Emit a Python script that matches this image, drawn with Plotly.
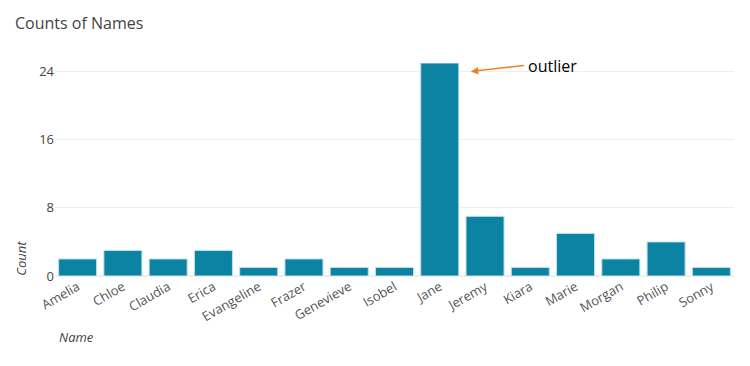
import plotly.graph_objects as go

names = ["Amelia", "Chloe", "Claudia", "Erica", "Evangeline", "Frazer", "Genevieve",
         "Isobel", "Jane", "Jeremy", "Kiara", "Marie", "Morgan", "Philip", "Sonny"]
counts = [2, 3, 2, 3, 1, 2, 1, 1, 25, 7, 1, 5, 2, 4, 1]
y_ticks = [0, 8, 16, 24]
outlier_name = "Jane"
outlier_value = 25

fig = go.Figure(go.Bar(
    x=names, y=counts,
    marker=dict(color="#0c83a3", line=dict(color="#bfe0ea", width=1)),
))

W, H = 742, 358
fig.update_layout(
    width=W, height=H,
    margin=dict(l=47, r=16, t=55, b=90),
    paper_bgcolor="white", plot_bgcolor="white",
    font=dict(family="Open Sans", size=13, color="#444"),
    title=dict(text="Counts of Names", x=7/W, xanchor="left", y=1 - 15/H, yanchor="middle",
               font=dict(size=16, color="#444")),
    bargap=0.16,
    showlegend=False,
    xaxis=dict(tickangle=-30, showgrid=False, showline=False, ticks="",
               tickfont=dict(size=13, color="#555")),
    yaxis=dict(range=[0, 25], tickvals=y_ticks, showgrid=True, gridcolor="#eeeeee",
               zeroline=True, zerolinecolor="#eeeeee", ticks="", showline=False,
               tickfont=dict(size=13, color="#444")),
    annotations=[
        dict(text="<i>Count</i>", xref="paper", yref="paper", x=-0.05, y=-0.01, xanchor="center",
             yanchor="bottom", textangle=-90, showarrow=False, font=dict(size=13, color="#444")),
        dict(text="<i>Name</i>", xref="paper", yref="paper", x=0.003, y=-0.285, xanchor="left",
             yanchor="middle", showarrow=False, font=dict(size=13, color="#444")),
        dict(text="outlier", x=outlier_name, y=24, xref="x", yref="y",
             showarrow=True, arrowhead=2, arrowsize=1, arrowwidth=1.5, arrowcolor="#f07f2a",
             ax=53, ay=-6, xshift=31, xanchor="left", borderpad=3,
             font=dict(size=16, color="black", family="Open Sans")),
    ],
)

fig.write_html("out.html")
